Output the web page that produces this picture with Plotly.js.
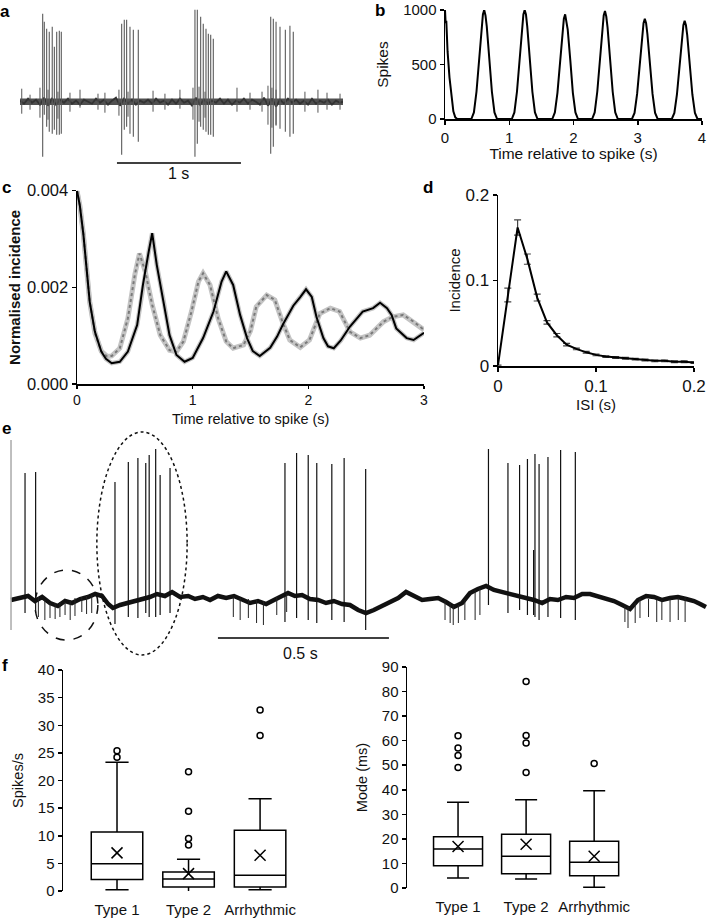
<!DOCTYPE html>
<html>
<head>
<meta charset="utf-8">
<script src="https://cdn.plot.ly/plotly-3.0.1.min.js"></script>
<style>
  html, body { margin: 0; padding: 0; background: #fff; }
  #fig { width: 709px; height: 918px; }
</style>
</head>
<body>
<div id="fig"></div>
<script>
// ---------- a: extracellular recording (s, arbitrary units) ----------
const aSpikeT  = [0.183, 0.196, 0.215, 0.236, 0.260, 0.277, 0.296, 0.317, 0.333,
                  0.820, 0.841, 0.860, 0.887, 0.914, 0.954,
                  1.411, 1.430, 1.457, 1.478, 1.500, 1.519, 1.538, 1.559,
                  2.022, 2.043, 2.065, 2.097, 2.140, 2.177, 2.204];
const aSpikeHi = [88, 80, 73, 70, 75, 55, 70, 71, 70,
                  78, 82, 82, 75, 72, 72,
                  92, 92, 85, 78, 73, 68, 67, 63,
                  85, 83, 80, 75, 72, 76, 70];
const aSpikeLo = [-55, -13, -25, -30, -32, -28, -33, -33, -32,
                  -53, -28, -25, -32, -35, -40,
                  -55, -42, -25, -28, -30, -33, -33, -35,
                  -52, -45, -23, -27, -30, -35, -32];
const aNoiseT  = [0.014, 0.081, 0.161, 0.226, 0.306, 0.403, 0.484, 0.629, 0.685, 0.798, 0.871,
                  1.073, 1.169, 1.290, 1.395, 1.444, 1.492, 1.750, 1.855, 1.952, 2.000, 2.032,
                  2.065, 2.298, 2.403, 2.476, 2.581];
const aNoiseHi = [13, 7, 14, 12, 10, 9, 12, 8, 9, 12, 10, 11, 8, 12, 14, 15, 10, 14, 9, 10, 16, 14, 12, 10, 12, 9, 8];
const aNoiseLo = [-12, -8, -16, -18, -17, -10, -6, -8, -11, -14, -15, -10, -8, -7, -18, -20, -16, -10, -8, -10, -23, -26, -24, -10, -11, -8, -8];
const aBaseT = [0.000, 0.032, 0.065, 0.097, 0.129, 0.161, 0.194, 0.226, 0.258, 0.290,
  0.323, 0.355, 0.387, 0.419, 0.452, 0.484, 0.516, 0.548, 0.581, 0.613,
  0.645, 0.677, 0.710, 0.742, 0.774, 0.806, 0.839, 0.871, 0.903, 0.935,
  0.968, 1.000, 1.032, 1.065, 1.097, 1.129, 1.161, 1.194, 1.226, 1.258,
  1.290, 1.323, 1.355, 1.387, 1.419, 1.452, 1.484, 1.516, 1.548, 1.581,
  1.613, 1.645, 1.677, 1.710, 1.742, 1.774, 1.806, 1.839, 1.871, 1.903,
  1.935, 1.968, 2.000, 2.032, 2.065, 2.097, 2.129, 2.161, 2.194, 2.226,
  2.258, 2.290, 2.323, 2.355, 2.387, 2.419, 2.452, 2.484, 2.516, 2.548,
  2.581, 2.605];
const aBaseY = [1, -2, 3, -1, 2, -3, 4, -4, 3, -3,
  2, -1, 3, -2, 1, -3, 2, 0, -2, 3,
  -1, 2, -3, 1, 4, -4, 3, -2, 2, -3,
  1, -1, 2, -2, 3, -1, 1, -3, 2, -2,
  3, -1, 1, -4, 4, -3, 2, -2, 1, -1,
  3, -2, 2, -3, 1, -1, 3, -2, 2, 0,
  -3, 4, -4, 3, -5, 2, -2, 3, -1, 2,
  -2, 1, -3, 3, -2, 1, -1, 2, -3, 1,
  -1, 0];
const aScaleBar = [0.782, 1.782];

// ---------- b: autocorrelogram ----------
const bTime = [0, 0.01, 0.02, 0.04, 0.07, 0.10, 0.13, 0.16, 0.19,
  0.41, 0.45, 0.49, 0.53, 0.57, 0.59, 0.61, 0.63, 0.65, 0.69, 0.73, 0.77, 0.81,
  1.04, 1.08, 1.12, 1.16, 1.20, 1.22, 1.24, 1.26, 1.28, 1.32, 1.36, 1.40, 1.44,
  1.67, 1.71, 1.75, 1.79, 1.83, 1.85, 1.87, 1.89, 1.91, 1.95, 1.99, 2.03, 2.07,
  2.29, 2.33, 2.37, 2.41, 2.45, 2.47, 2.49, 2.51, 2.53, 2.57, 2.61, 2.65, 2.69,
  2.91, 2.95, 2.99, 3.03, 3.07, 3.09, 3.11, 3.13, 3.15, 3.19, 3.23, 3.27, 3.31,
  3.53, 3.57, 3.61, 3.65, 3.69, 3.71, 3.73, 3.75, 3.77, 3.81, 3.85, 3.89, 3.93, 4.0];
const bSpikes = [1000, 880, 900, 620, 380, 190, 70, 15, 0,
  0, 60, 250, 560, 850, 960, 1000, 950, 850, 560, 250, 60, 0,
  0, 60, 250, 560, 850, 960, 1000, 960, 850, 560, 250, 60, 0,
  0, 60, 240, 540, 820, 920, 960, 900, 820, 540, 240, 60, 0,
  0, 60, 250, 550, 840, 950, 990, 940, 840, 550, 250, 60, 0,
  0, 55, 230, 520, 780, 880, 920, 880, 780, 520, 230, 55, 0,
  0, 55, 225, 500, 770, 860, 900, 860, 770, 500, 225, 55, 0, 0];

// ---------- c: normalised incidence ----------
const cSolidT = [0, 0.024, 0.055, 0.084, 0.11, 0.155, 0.21, 0.25, 0.30, 0.37, 0.44, 0.52, 0.57, 0.62,
  0.65, 0.69, 0.75, 0.80, 0.86, 0.93, 1.00, 1.09, 1.18, 1.25, 1.29, 1.35, 1.41, 1.47, 1.52,
  1.58, 1.67, 1.73, 1.78, 1.87, 1.93, 1.98, 2.03, 2.07, 2.13, 2.17, 2.22, 2.28, 2.36, 2.47,
  2.56, 2.62, 2.68, 2.72, 2.76, 2.85, 2.91, 2.95, 3.0];
const cSolidY = [0.0040, 0.0037, 0.0031, 0.0024, 0.0017, 0.00108, 0.00067, 0.00052, 0.00043, 0.00046,
  0.00067, 0.00122, 0.00205, 0.00274, 0.00312, 0.00246, 0.0017, 0.00101, 0.0006, 0.00046, 0.00054,
  0.00095, 0.0015, 0.00212, 0.00233, 0.00205, 0.00143, 0.00095, 0.00068, 0.00058, 0.00075, 0.00098,
  0.00123, 0.00162, 0.0018, 0.00196, 0.0018, 0.00139, 0.00095, 0.00078, 0.00074, 0.0009, 0.00119,
  0.0015, 0.00157, 0.00168, 0.00157, 0.00143, 0.00115, 0.00095, 0.00091, 0.00098, 0.00106];
const cDotT = [0, 0.024, 0.055, 0.084, 0.11, 0.155, 0.21, 0.26, 0.30, 0.37, 0.44, 0.50, 0.54, 0.59,
  0.65, 0.72, 0.80, 0.86, 0.92, 0.99, 1.05, 1.09, 1.15, 1.22, 1.29, 1.35, 1.44, 1.50, 1.55, 1.64,
  1.71, 1.78, 1.84, 1.93, 2.01, 2.10, 2.19, 2.27, 2.36, 2.45, 2.53, 2.65, 2.73, 2.82, 2.91, 3.0];
const cDotY = [0.0040, 0.0037, 0.0031, 0.0024, 0.0017, 0.00105, 0.00068, 0.00057, 0.00058, 0.00074,
  0.00136, 0.00226, 0.0027, 0.00233, 0.00164, 0.00101, 0.0007, 0.00067, 0.00088, 0.0015, 0.00212,
  0.00229, 0.00205, 0.00136, 0.00088, 0.00074, 0.00081, 0.0011, 0.0016, 0.00184, 0.00174, 0.00126,
  0.00091, 0.00076, 0.00091, 0.00146, 0.00157, 0.0015, 0.00108, 0.00095, 0.00101, 0.00129, 0.00139,
  0.00143, 0.00129, 0.00112];

// ---------- d: ISI distribution ----------
const dIsi = [0, 0.01, 0.02, 0.03, 0.04, 0.05, 0.06, 0.07, 0.08, 0.09, 0.10,
  0.11, 0.12, 0.13, 0.14, 0.15, 0.16, 0.17, 0.18, 0.19, 0.20];
const dIncidence = [0.001, 0.083, 0.162, 0.125, 0.080, 0.051, 0.036, 0.025, 0.020, 0.016, 0.013,
  0.011, 0.010, 0.009, 0.008, 0.007, 0.006, 0.006, 0.005, 0.005, 0.004];
const dErr = [0, 0.008, 0.009, 0.006, 0.004, 0.002, 0.002, 0.0015, 0.001, 0.001, 0.001,
  0.001, 0.001, 0.001, 0.001, 0.001, 0.001, 0.001, 0.001, 0.001, 0.001];

// ---------- e: intracellular trace (s, arbitrary units) ----------
const eSpikeT  = [0.041, 0.072, 0.304, 0.343, 0.371, 0.394, 0.404, 0.423, 0.436, 0.465,
  0.801, 0.835, 0.869, 0.894, 0.938, 0.974, 1.037,
  1.396, 1.453, 1.487, 1.510, 1.528, 1.532, 1.544, 1.570, 1.607, 1.650];
const eSpikeHi = [127, 128, 118, 138, 142, 137, 145, 151, 125, 132,
  137, 147, 145, 137, 136, 142, 131,
  151, 137, 135, 141, 50, 146, 136, 143, 150, 148];
const eSpikeLo = [-13, -13, -24, -17, -18, -13, -17, -17, -15, -13,
  -22, -18, -20, -23, -20, -22, -30,
  -5, -13, -10, -15, -15, -17, -20, -17, -18, -20];
const eBaseT = [0, 0.026, 0.050, 0.070, 0.091, 0.114, 0.137, 0.158, 0.178, 0.202,
  0.225, 0.246, 0.266, 0.284, 0.298, 0.319, 0.342, 0.363, 0.383, 0.406,
  0.427, 0.450, 0.471, 0.494, 0.518, 0.538, 0.561, 0.582, 0.605, 0.629,
  0.652, 0.675, 0.699, 0.722, 0.746, 0.769, 0.789, 0.810, 0.830, 0.851,
  0.874, 0.898, 0.921, 0.944, 0.968, 0.991, 1.015, 1.038, 1.061, 1.085,
  1.108, 1.132, 1.155, 1.178, 1.202, 1.225, 1.249, 1.272, 1.295, 1.319,
  1.342, 1.365, 1.389, 1.412, 1.436, 1.459, 1.482, 1.506, 1.529, 1.553,
  1.576, 1.599, 1.623, 1.646, 1.670, 1.693, 1.716, 1.740, 1.763, 1.787,
  1.810, 1.833, 1.857, 1.880, 1.904, 1.927, 1.950, 1.974, 1.997, 2.015,
  2.032];
const eBaseY = [0, 2, 4, -1, 3, -3, -6, -1, -3, 1,
  3, 6, 4, -4, -8, -5, -3, -1, 1, 3,
  6, 4, 8, 3, 4, 1, 3, 0, 4, 2,
  4, 0, -3, -1, -4, 0, 3, 7, 4, 5,
  1, 0, -3, -1, -4, -5, -10, -13, -10, -6,
  -3, 2, 8, 4, 0, 1, 2, -2, -7, -3,
  7, 11, 14, 10, 8, 5, 4, 2, 0, -3,
  1, 0, 3, 2, 6, 6, 4, 2, -1, -5,
  -9, 0, 4, 3, 0, 2, 3, 1, -1, -4,
  -7];
const eTickT  = [0.080, 0.099, 0.114, 0.129, 0.143, 0.158, 0.173, 0.187, 0.207, 0.221, 0.236,
  0.650, 0.670, 0.694, 0.718, 0.738, 0.777, 0.806,
  1.269, 1.284, 1.293, 1.308, 1.327, 1.357, 1.371,
  1.795, 1.804, 1.825, 1.839, 1.864, 1.888, 1.903, 1.927, 1.951, 1.971];
const eTickHi = [3, 0, -3, -3, -2, -2, 0, 2, 3, 4, 5,
  3, 2, 1, 0, -1, 3, 6,
  0, -3, -5, -5, 0, 10, 12,
  -6, -7, -3, 2, 1, 0, 0, 1, 2, 2];
const eTickLo = [-17, -20, -18, -19, -17, -15, -20, -16, -12, -14, -13,
  -17, -20, -18, -23, -25, -15, -12,
  -20, -23, -25, -23, -20, -20, -15,
  -22, -28, -23, -18, -17, -22, -20, -22, -20, -22];
const eScaleBar = [0.605, 1.105];

// ---------- f: box plots ----------
const fCats = ['Type 1', 'Type 2', 'Arrhythmic'];
const rateLo   = [0.24, -0.2, 0.24];
const rateQ1   = [2.1, 0.73, 0.73];
const rateMed  = [4.95, 2.18, 2.84];
const rateQ3   = [10.7, 3.44, 11.0];
const rateHi   = [23.3, 5.74, 16.7];
const rateMean = [6.9, 3.14, 6.47];
const rateOutCat = ['Type 1', 'Type 1', 'Type 2', 'Type 2', 'Type 2', 'Type 2', 'Arrhythmic', 'Arrhythmic'];
const rateOutVal = [24.2, 25.4, 8.34, 9.49, 14.44, 21.57, 28.16, 32.75];

const modeLo   = [4.1, 3.7, 0.3];
const modeQ1   = [9.1, 5.8, 5.0];
const modeMed  = [15.9, 12.9, 10.5];
const modeQ3   = [20.9, 21.9, 19.0];
const modeHi   = [34.9, 35.9, 39.6];
const modeMean = [16.9, 17.8, 12.9];
const modeOutCat = ['Type 1', 'Type 1', 'Type 1', 'Type 1', 'Type 2', 'Type 2', 'Type 2', 'Type 2', 'Arrhythmic'];
const modeOutVal = [49.1, 54, 57, 62, 47, 59.1, 62.1, 84.1, 50.7];

// vertical segments for spikes
function verticals(t, lo, hi) {
  let x = [], y = [];
  t.forEach((v, i) => { x.push(v, v, null); y.push(lo[i], hi[i], null); });
  return {x: x, y: y};
}

const FONT = 'Arial, "Liberation Sans", sans-serif';
const aS = verticals(aSpikeT, aSpikeLo, aSpikeHi);
const aN = verticals(aNoiseT, aNoiseLo, aNoiseHi);
const eS = verticals(eSpikeT, eSpikeLo, eSpikeHi);
const eK = verticals(eTickT, eTickLo, eTickHi);

function line(x, y, xa, ya, color, width, dash) {
  return {type: 'scatter', mode: 'lines', x: x, y: y, xaxis: xa, yaxis: ya,
    line: {color: color, width: width, dash: dash || 'solid'}, hoverinfo: 'skip'};
}

let traces = [
  line([aBaseT[0], aBaseT[aBaseT.length - 1]], [0, 0], 'x', 'y', '#505050', 6.5),
  line(aBaseT, aBaseY, 'x', 'y', '#333', 1.8),
  line(aN.x, aN.y, 'x', 'y', '#555', 1),
  line(aS.x, aS.y, 'x', 'y', '#5a5a5a', 1.1),

  line(bTime, bSpikes, 'x2', 'y2', '#000', 2),

  line(cDotT, cDotY, 'x3', 'y3', '#c4c4c4', 5),
  line(cSolidT, cSolidY, 'x3', 'y3', '#c4c4c4', 4.5),
  line(cDotT, cDotY, 'x3', 'y3', '#7a7a7a', 2, 'dot'),
  line(cSolidT, cSolidY, 'x3', 'y3', '#000', 2),

  {type: 'scatter', mode: 'lines', x: dIsi, y: dIncidence, xaxis: 'x4', yaxis: 'y4',
   line: {color: '#000', width: 2},
   error_y: {type: 'data', array: dErr, visible: true, color: '#444', thickness: 1.2, width: 3.5}},

  line(eBaseT, eBaseY, 'x5', 'y5', '#111', 4.5),
  line(eK.x, eK.y, 'x5', 'y5', '#222', 1),
  line(eS.x, eS.y, 'x5', 'y5', '#111', 1.2),
];

function boxes(lo, q1, med, q3, hi, xa, ya) {
  return {type: 'box', x: fCats, lowerfence: lo, q1: q1, median: med, q3: q3, upperfence: hi,
    xaxis: xa, yaxis: ya, boxpoints: false, fillcolor: '#fff', width: 0.72, whiskerwidth: 0.45,
    line: {color: '#000', width: 1.5}, hoverinfo: 'skip'};
}
function pts(x, y, xa, ya, symbol, size) {
  return {type: 'scatter', mode: 'markers', x: x, y: y, xaxis: xa, yaxis: ya, cliponaxis: false,
    marker: {symbol: symbol, size: size, color: '#000', line: {color: '#000', width: 1.5}}};
}
traces.push(
  boxes(rateLo, rateQ1, rateMed, rateQ3, rateHi, 'x6', 'y6'),
  pts(rateOutCat, rateOutVal, 'x6', 'y6', 'circle-open', 6),
  pts(fCats, rateMean, 'x6', 'y6', 'x-thin-open', 11),
  boxes(modeLo, modeQ1, modeMed, modeQ3, modeHi, 'x7', 'y7'),
  pts(modeOutCat, modeOutVal, 'x7', 'y7', 'circle-open', 6),
  pts(fCats, modeMean, 'x7', 'y7', 'x-thin-open', 11)
);

const W = 709, H = 918;
const dx = (a, b) => [a / W, b / W];
const dy = (top, bottom) => [1 - bottom / H, 1 - top / H];

const hidden = {visible: false, fixedrange: true};
function ax(size) {
  return {showline: true, linecolor: '#000', linewidth: 1.5, ticks: 'outside', ticklen: 4,
    tickwidth: 1.5, tickcolor: '#000', showgrid: false, zeroline: false,
    tickfont: {size: size, color: '#111'}, fixedrange: true};
}
const title = (t, size, standoff) => ({text: t, font: {size: size, color: '#111'}, standoff: standoff});

const layout = {
  width: W, height: H, margin: {l: 0, r: 0, t: 0, b: 0},
  paper_bgcolor: '#fff', plot_bgcolor: 'rgba(0,0,0,0)',
  showlegend: false, font: {family: FONT, color: '#111'},

  xaxis:  Object.assign({}, hidden, {domain: dx(20, 343), range: [0, 2.605], anchor: 'y'}),
  yaxis:  Object.assign({}, hidden, {domain: dy(0, 166), range: [-64.3, 101.7], anchor: 'x'}),

  xaxis2: Object.assign(ax(15), {domain: dx(445, 702), range: [0, 4], tickvals: [0, 1, 2, 3, 4],
           anchor: 'y2', title: title('Time relative to spike (s)', 15.5, 3)}),
  yaxis2: Object.assign(ax(15), {domain: dy(10, 119), range: [0, 1000], tickvals: [0, 500, 1000],
           anchor: 'x2', title: title('Spikes', 15.5, 10)}),

  xaxis3: Object.assign(ax(14), {domain: dx(77, 424), range: [0, 3], tickvals: [0, 1, 2, 3],
           ticklen: 3, anchor: 'y3'}),
  yaxis3: Object.assign(ax(16.5), {domain: dy(190.7, 384), range: [0, 0.004],
           tickvals: [0, 0.002, 0.004], ticktext: ['0.000', '0.002', '0.004'],
           anchor: 'x3', title: title('<b>Normalised incidence</b>', 15, 2)}),

  xaxis4: Object.assign(ax(17), {domain: dx(498, 694), range: [0, 0.2], tickvals: [0, 0.1, 0.2],
           ticktext: ['0', '0.1', '0.2'], anchor: 'y4', title: title('ISI (s)', 15, 4)}),
  yaxis4: Object.assign(ax(17), {domain: dy(195, 366), range: [0, 0.2], tickvals: [0, 0.1, 0.2],
           ticktext: ['0', '0.1', '0.2'], anchor: 'x4', title: title('Incidence', 15, 1)}),

  xaxis5: Object.assign({}, hidden, {domain: dx(8, 707), range: [-0.0088, 2.035], anchor: 'y5'}),
  yaxis5: Object.assign({}, hidden, {domain: dy(428, 660), range: [-60, 172], anchor: 'x5'}),

  xaxis6: Object.assign(ax(15), {domain: dx(63, 303), range: [-0.755, 2.6], type: 'category',
           showline: false, ticks: '', ticklabelstandoff: 8, anchor: 'y6'}),
  yaxis6: Object.assign(ax(15), {domain: dy(670, 891), range: [0, 40], dtick: 5,
           anchor: 'x6', title: title('Spikes/s', 14.5, 10)}),

  xaxis7: Object.assign(ax(15), {domain: dx(407, 635), range: [-0.75, 2.6], type: 'category',
           showline: false, ticks: '', ticklabelstandoff: 8, anchor: 'y7'}),
  yaxis7: Object.assign(ax(15), {domain: dy(667, 888), range: [0, 90], dtick: 10,
           anchor: 'x7', title: title('Mode (ms)', 14.5, 10)}),

  shapes: [
    {type: 'line', xref: 'x', yref: 'y', x0: aScaleBar[0], x1: aScaleBar[1], y0: -61.3, y1: -61.3,
     line: {color: '#000', width: 1.5}},
    {type: 'line', xref: 'x5', yref: 'y5', x0: eScaleBar[0], x1: eScaleBar[1], y0: -38, y1: -38,
     line: {color: '#000', width: 1.5}},
    {type: 'line', xref: 'x5', yref: 'y5', x0: 0, x1: 0, y0: -30, y1: 160,
     line: {color: '#aaa', width: 1.5}},
    {type: 'circle', xref: 'x5', yref: 'y5', x0: 0.070, x1: 0.254, y0: -40, y1: 30,
     line: {color: '#111', width: 1.5, dash: 'dash'}},
    {type: 'circle', xref: 'x5', yref: 'y5', x0: 0.251, x1: 0.515, y0: -55, y1: 168,
     line: {color: '#111', width: 1.5, dash: 'dot'}}
  ],

  annotations: [
    ['a', 5, 12], ['b', 380, 11], ['c', 6, 188], ['d', 428, 187], ['e', 6, 428], ['f', 5, 665]
  ].map(([t, x, y]) => ({text: '<b>' + t + '</b>', xref: 'paper', yref: 'paper', x: x / W, y: 1 - y / H,
      xanchor: 'center', yanchor: 'middle', showarrow: false, font: {size: 17, color: '#000'}}))
  .concat([
    {text: '1 s', xref: 'x', yref: 'paper', x: 1.282, y: 1 - 173 / H, showarrow: false,
     xanchor: 'center', yanchor: 'middle', font: {size: 16, color: '#111'}},
    {text: '0.5 s', xref: 'x5', yref: 'paper', x: 0.845, y: 1 - 653 / H, showarrow: false,
     xanchor: 'center', yanchor: 'middle', font: {size: 16, color: '#111'}},
    {text: 'Time relative to spike (s)', xref: 'x3', yref: 'paper', x: 1.5, y: 1 - 419 / H,
     showarrow: false, xanchor: 'center', yanchor: 'middle', font: {size: 14.5, color: '#111'}}
  ])
};

Plotly.newPlot('fig', traces, layout, {staticPlot: true, displayModeBar: false});
</script>
</body>
</html>
